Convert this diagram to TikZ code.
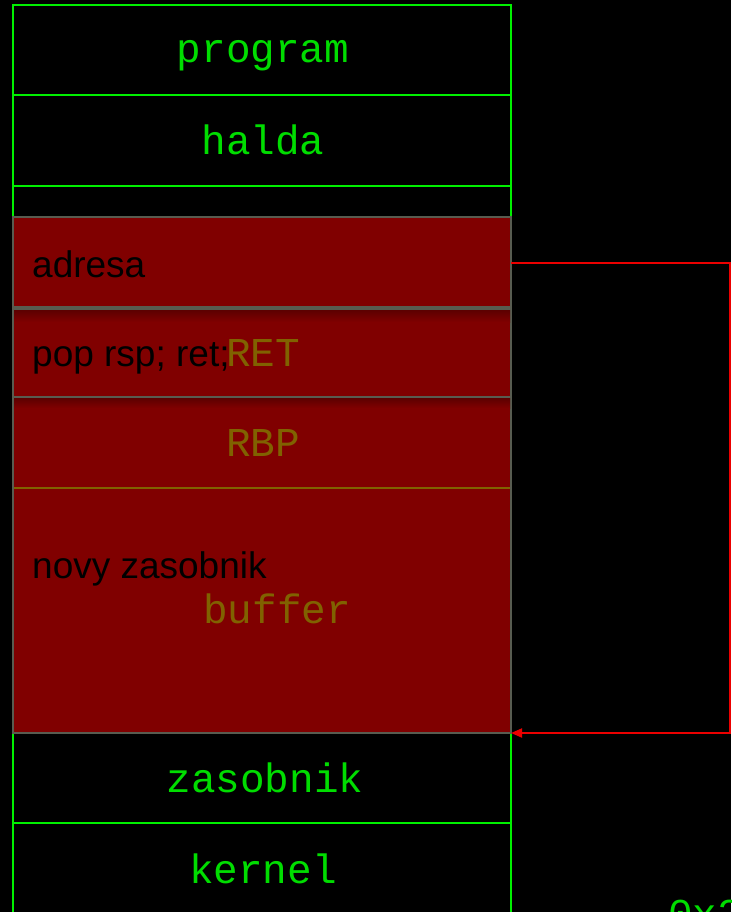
\documentclass[tikz,border=0pt]{standalone}
\usepackage{fontspec}
\setmainfont{Liberation Sans}
\newfontfamily\monof{Liberation Mono}
\usetikzlibrary{arrows.meta}
\definecolor{memgreen}{RGB}{0,240,0}
\definecolor{labelgreen}{RGB}{0,221,0}
\definecolor{darkred}{RGB}{128,0,0}
\definecolor{shadowred}{RGB}{92,0,0}
\definecolor{slate}{RGB}{88,92,80}
\definecolor{olivetext}{RGB}{128,98,0}
\definecolor{ropred}{RGB}{235,0,0}
\tikzset{
  seg/.style={rectangle, draw=memgreen, line width=2pt, minimum width=498pt,
    inner sep=0pt, outer sep=0pt, anchor=north west},
  hot/.style={rectangle, fill=darkred, draw=slate, line width=2pt, minimum width=498pt,
    inner sep=0pt, outer sep=0pt, anchor=north west},
  memlabel/.style={anchor=base, inner sep=0pt, text=labelgreen,
    font=\monof\fontsize{41}{46}\selectfont},
  ghost/.style={anchor=base, inner sep=0pt, text=olivetext,
    font=\monof\fontsize{41}{46}\selectfont},
  note/.style={anchor=base west, inner sep=0pt, text=black,
    font=\fontsize{37}{42}\selectfont},
  link/.style={draw=ropred, line width=1.8pt, -{Triangle[length=11pt,width=9pt]}}
}
\begin{document}
\begin{tikzpicture}[x=1pt,y=-1pt]
  \useasboundingbox[fill=black] (0,0) rectangle (731,912);

  % address space segments
  \node[seg, minimum height=90pt] (program) at (13,5) {};
  \node[seg, minimum height=91pt] (halda) at (13,95) {};
  \node[seg, minimum height=91pt] (gap) at (13,186) {};
  \node[seg, minimum height=90pt] (zasobnik) at (13,733) {};
  \node[seg, minimum height=200pt] (kernel) at (13,823) {};

  % overwritten stack frame
  \node[hot, minimum height=90pt] (adresa) at (13,217) {};
  \node[hot, minimum height=88pt] (poprsp) at (13,309) {};
  \node[hot, minimum height=91pt] (rbp) at (13,397) {};
  \node[hot, minimum height=245pt] (buffer) at (13,488) {};

  % soft shadows under the upper blocks
  \shade[top color=shadowred, bottom color=darkred] (14,310) rectangle (510,322);
  \shade[top color=shadowred, bottom color=darkred] (14,398) rectangle (510,408);
  \draw[olivetext, line width=2pt] (14,488) -- (510,488);

  % segment names
  \node[memlabel] (tprogram) at (263,63) {program};
  \node[memlabel] (thalda) at (263,155) {halda};
  \node[memlabel] (tzasobnik) at (265,792) {zasobnik};
  \node[memlabel] (tkernel) at (263,883) {kernel};
  \node[memlabel, anchor=base west] (taddr) at (668,927) {0x2};

  % original frame contents, shining through
  \node[ghost] (tret) at (263,366) {RET};
  \node[ghost] (trbp) at (263,456) {RBP};
  \node[ghost, anchor=base west] (tbuffer) at (203,623) {buffer};

  % injected contents
  \node[note] (nadresa) at (32,277) {adresa};
  \node[note] (npop) at (32,366) {pop rsp; ret;};
  \node[note] (nnovy) at (32,578) {novy zasobnik};

  % pivot pointer
  \coordinate (turn1) at (730,263);
  \coordinate (turn2) at (730,733);
  \draw[link] (adresa.east |- turn1) -- (turn1) -- (turn2) -- (buffer.south east);
\end{tikzpicture}
\end{document}
